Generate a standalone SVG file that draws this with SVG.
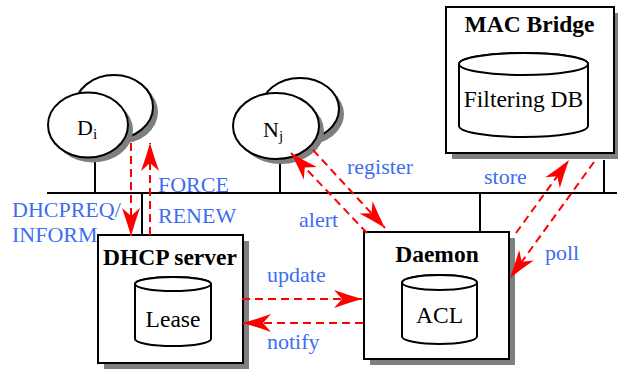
<svg xmlns="http://www.w3.org/2000/svg" width="618" height="369" viewBox="0 0 618 369" font-family="'Liberation Serif', 'Times New Roman', Times, serif">
<style>
  .ln{stroke:#000;stroke-width:2;fill:none}
  .box{fill:#fff;stroke:#000;stroke-width:2}
  .sh{fill:#7f7f7f;stroke:none}
  .title{font-weight:bold;font-size:23.5px;fill:#000;text-anchor:middle}
  .lbl{font-size:23.5px;fill:#000;text-anchor:middle}
  .nd{font-size:22px;fill:#000}
  .sub{font-size:15px}
  .blue{font-size:22px;fill:#3e6df0}
  .arr{stroke:#ff0000;stroke-width:2;stroke-dasharray:8,5;fill:none;marker-end:url(#ah)}
</style>
<defs>
  <marker id="ah" viewBox="-29 -10 30 20" refX="0" refY="0" markerWidth="30" markerHeight="20" markerUnits="userSpaceOnUse" orient="auto">
    <path d="M0,0 Q-14,-4 -28,-9 L-20,0 L-28,9 Q-14,4 0,0 Z" fill="#ff0000"/>
  </marker>
</defs>

<g id="bus">
  <line class="ln" x1="47" y1="193" x2="617" y2="193"/>
  <line class="ln" x1="95" y1="160" x2="95" y2="193"/>
  <line class="ln" x1="280" y1="160" x2="280" y2="193"/>
  <line class="ln" x1="142" y1="193" x2="142" y2="235"/>
  <line class="ln" x1="480" y1="193" x2="480" y2="232"/>
  <line class="ln" x1="604" y1="160" x2="604" y2="193"/>
</g>

<g id="Di">
  <ellipse class="sh" cx="119" cy="112" rx="39" ry="32"/>
  <ellipse class="box" cx="114" cy="107" rx="39" ry="32"/>
  <ellipse class="sh" cx="93" cy="130" rx="40" ry="32.5"/>
  <ellipse class="box" cx="88" cy="125" rx="40" ry="32.5"/>
  <text class="nd" x="77" y="135">D<tspan class="sub" dy="4">i</tspan></text>
</g>

<g id="Nj">
  <ellipse class="sh" cx="305" cy="114" rx="39" ry="31"/>
  <ellipse class="box" cx="300" cy="109" rx="39" ry="31"/>
  <ellipse class="sh" cx="281" cy="131" rx="43" ry="33"/>
  <ellipse class="box" cx="276" cy="126" rx="43" ry="33"/>
  <text class="nd" x="263" y="137">N<tspan class="sub" dy="4">j</tspan></text>
</g>

<g id="mac-bridge">
  <rect class="sh" x="452" y="13" width="168" height="146"/>
  <rect class="box" x="446" y="7" width="168" height="146"/>
  <text class="title" x="529.5" y="32">MAC Bridge</text>
  <path class="box" d="M459,64 A64.5,11 0 0 1 588,64 L588,126 A64.5,11 0 0 1 459,126 Z"/>
  <ellipse class="box" cx="523.5" cy="64" rx="64.5" ry="11"/>
  <text class="lbl" x="523.5" y="107">Filtering DB</text>
</g>

<g id="dhcp-server">
  <rect class="sh" x="104" y="241" width="145" height="128"/>
  <rect class="box" x="98" y="235" width="145" height="128"/>
  <text class="title" x="170" y="265">DHCP server</text>
  <path class="box" d="M135,284 A38,7 0 0 1 211,284 L211,339 A38,7 0 0 1 135,339 Z"/>
  <ellipse class="box" cx="173" cy="284" rx="38" ry="7"/>
  <text class="lbl" x="173" y="327">Lease</text>
</g>

<g id="daemon">
  <rect class="sh" x="370" y="238" width="145" height="127"/>
  <rect class="box" x="364" y="232" width="145" height="127"/>
  <text class="title" x="437" y="262">Daemon</text>
  <path class="box" d="M402,282.5 A37.5,7.5 0 0 1 477,282.5 L477,336.5 A37.5,7.5 0 0 1 402,336.5 Z"/>
  <ellipse class="box" cx="439.5" cy="282.5" rx="37.5" ry="7.5"/>
  <text class="lbl" x="439.5" y="323">ACL</text>
</g>

<g id="connectors">
  <line class="arr" x1="131" y1="143" x2="131" y2="236"/>
  <line class="arr" x1="150" y1="235" x2="150" y2="143"/>
  <line class="arr" x1="313" y1="150" x2="385" y2="228"/>
  <line class="arr" x1="367" y1="233" x2="291" y2="153"/>
  <line class="arr" x1="516" y1="233" x2="569" y2="160"/>
  <line class="arr" x1="594" y1="162" x2="510" y2="278"/>
  <line class="arr" x1="242" y1="299" x2="362" y2="299"/>
  <line class="arr" x1="363" y1="323" x2="243" y2="323"/>
</g>

<g id="labels">
  <text class="blue" x="12" y="217">DHCPREQ/</text>
  <text class="blue" x="12" y="242">INFORM</text>
  <text class="blue" x="158" y="192">FORCE</text>
  <text class="blue" x="158" y="223">RENEW</text>
  <text class="blue" x="347" y="174">register</text>
  <text class="blue" x="299" y="227">alert</text>
  <text class="blue" x="484" y="184">store</text>
  <text class="blue" x="545" y="260">poll</text>
  <text class="blue" x="267" y="282">update</text>
  <text class="blue" x="267" y="349">notify</text>
</g>
</svg>
